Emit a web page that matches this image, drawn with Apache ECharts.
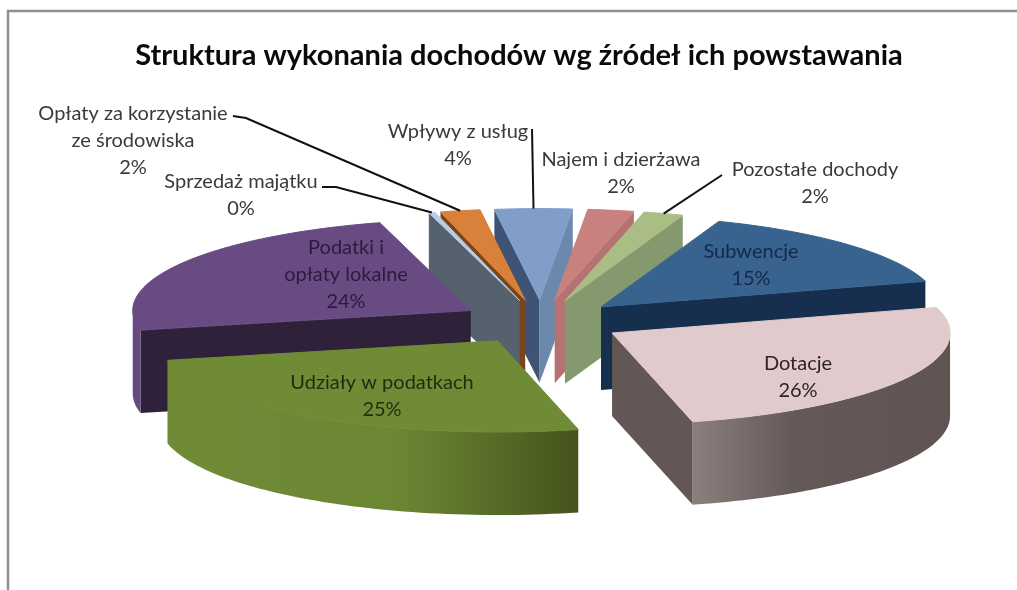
<!DOCTYPE html>
<html>
<head>
<meta charset="utf-8">
<script src="https://cdn.jsdelivr.net/npm/echarts@6/dist/echarts.min.js"></script>
<style>
  html, body { margin: 0; padding: 0; background: #fff; }
  #main { width: 1017px; height: 590px; }
</style>
</head>
<body>
<div id="main"></div>
<script>
const categories = ["Subwencje", "Dotacje", "Udziały w podatkach", "Podatki i\nopłaty lokalne", "Sprzedaż majątku", "Opłaty za korzystanie\nze środowiska", "Wpływy z usług", "Najem i dzierżawa", "Pozostałe dochody"];
const shares = [14.8, 25.7, 25.4, 24.1, 0.3, 1.9, 3.7, 2.2, 1.9];

const topColors = ["#38638f", "#e0cacc", "#6f8b36", "#674b82", "#b8cde4", "#d9803a", "#809ec8", "#c8817f", "#aabd84"];
const startWallColors = ["#172f4e", "#635756", "#4a5a22", "#2e2139", "#55616d", "#7a4519", "#3f5474", "#b47372", "#849a6e"];
const endWallColors = ["#172f4e", "#635756", "#4a5a22", "#2e2139", "#55616d", "#7a4519", "#6c88ad", "#b47372", "#849a6e"];
// rim shading, screen left to right
const rimStops = {
  1: [[0, "#8b7f7d"], [0.4, "#655957"], [1, "#5f5452"]],
  2: [[0, "#6f8b36"], [0.55, "#6c8734"], [1, "#45541d"]],
  3: [[0, "#654a80"], [1, "#654a80"]]
};
const labelColors = ["#14294a", "#2c2426", "#1e2e0d", "#2a1c3c", "#3a3a3a", "#3a3a3a", "#3a3a3a", "#3a3a3a", "#3a3a3a"];
// label centre (first line) and the start of the leader line, if any
const labelSpots = [
  { x: 751, y: 252 },
  { x: 798, y: 364 },
  { x: 382, y: 383 },
  { x: 346, y: 248 },
  { x: 241, y: 182, line: [[322, 187], [336, 187]] },
  { x: 133, y: 114, line: [[233, 116], [246, 118]] },
  { x: 458, y: 132, line: [[532, 129]] },
  { x: 621, y: 160 },
  { x: 815, y: 170, line: [[722, 175]] }
];

const cx = 541, cy = 322, radius = 338, squash = 0.27, depth = 83, explode = 82, firstAngle = 20.4;
const lineHeight = 27;

const total = shares.reduce((a, b) => a + b, 0);
let running = 0;
const spans = shares.map(v => {
  const from = echarts.number.linearMap(running, [0, total], [firstAngle, firstAngle + 360]);
  running += v;
  const to = echarts.number.linearMap(running, [0, total], [firstAngle, firstAngle + 360]);
  return [from, to];
});

const rad = a => a * Math.PI / 180;
// clockwise from north, squashed into the pie's ellipse
const project = (ox, oy, r, a) => [ox + r * Math.sin(rad(a)), oy - r * squash * Math.cos(rad(a))];
const apexOf = i => project(cx, cy, explode, (spans[i][0] + spans[i][1]) / 2);
const down = p => [p[0], p[1] + depth];

const arcPoints = (o, from, to) => {
  const pts = [];
  const steps = Math.max(2, Math.ceil((to - from) / 1.5));
  for (let s = 0; s <= steps; s++) {
    pts.push(project(o[0], o[1], radius, from + (to - from) * s / steps));
  }
  return pts;
};

// back slices first
const rank = shares.map((v, i) => i).sort((a, b) => apexOf(a)[1] - apexOf(b)[1]);

function renderSlice(params, api) {
  const i = api.value(0);
  const [from, to] = spans[i];
  const o = apexOf(i);
  const base = 10 + rank.indexOf(i) * 5;
  const children = [];
  const wall = (a, fill) => {
    const p = project(o[0], o[1], radius, a);
    children.push({ type: "polygon", z2: base, shape: { points: [o, p, down(p), down(o)] }, style: { fill: fill } });
  };
  // radial walls, only the ones that face the viewer
  if (Math.sin(rad(from)) < 0) wall(from, startWallColors[i]);
  if (Math.sin(rad(to)) > 0) wall(to, endWallColors[i]);
  // outer rim, front half of the ellipse only
  const a0 = Math.max(from, 90), a1 = Math.min(to, 270);
  if (a1 > a0) {
    const rim = arcPoints(o, a0, a1);
    const stops = rimStops[i].map(s => ({ offset: s[0], color: s[1] }));
    children.push({
      type: "polygon", z2: base + 1,
      shape: { points: rim.concat(rim.slice().reverse().map(down)) },
      style: { fill: new echarts.graphic.LinearGradient(0, 0, 1, 0, stops) }
    });
  }
  // top face
  children.push({
    type: "polygon", z2: base + 2,
    shape: { points: [o].concat(arcPoints(o, from, to)) },
    style: { fill: topColors[i], stroke: topColors[i], lineWidth: 1 }
  });
  return { type: "group", children: children };
}

function renderLabel(params, api) {
  const i = api.value(0);
  const spot = labelSpots[i];
  const lines = categories[i].split("\n").concat([Math.round(shares[i] / total * 100) + "%"]);
  const children = lines.map((t, n) => ({
    type: "text", z2: 200,
    style: {
      x: spot.x, y: spot.y + n * lineHeight, text: t, fill: labelColors[i],
      font: "20px Lato", align: "center", verticalAlign: "middle"
    }
  }));
  if (spot.line) {
    const mid = (spans[i][0] + spans[i][1]) / 2;
    children.push({
      type: "polyline", z2: 150,
      shape: { points: spot.line.concat([project(apexOf(i)[0], apexOf(i)[1], radius, mid)]) },
      style: { stroke: "#111", lineWidth: 2, fill: null }
    });
  }
  return { type: "group", children: children };
}

const chart = echarts.init(document.getElementById("main"), null, { renderer: "canvas" });
chart.setOption({
  animation: false,
  backgroundColor: "#fff",
  title: {
    text: "Struktura wykonania dochodów wg źródeł ich powstawania",
    left: 514, top: 36, textAlign: "center",
    textStyle: { fontFamily: "Lato", fontWeight: "bold", fontSize: 29, color: "#0a0a0a" }
  },
  graphic: [{
    type: "polyline", silent: true,
    shape: { points: [[8, 590], [8, 11], [1017, 11]] },
    style: { stroke: "#8f8f8f", lineWidth: 2.5, fill: null }
  }],
  series: [
    { type: "custom", coordinateSystem: "none", data: shares.map((v, i) => [i, v]), renderItem: renderSlice, silent: true },
    { type: "custom", coordinateSystem: "none", data: shares.map((v, i) => [i, v]), renderItem: renderLabel, silent: true, z: 5 }
  ]
});
</script>
</body>
</html>
